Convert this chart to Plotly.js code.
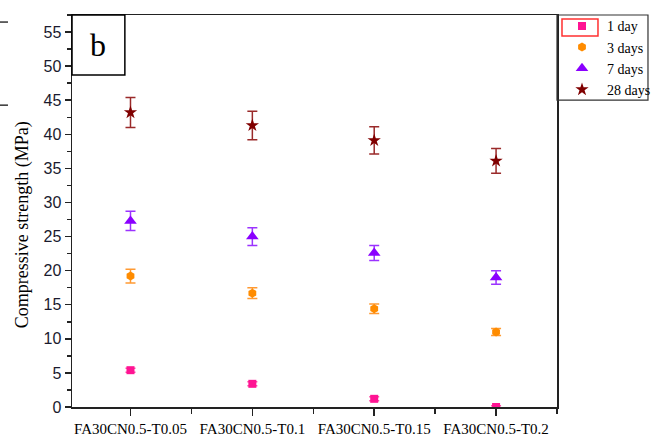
<!DOCTYPE html>
<html>
<head>
<meta charset="utf-8">
<script src="https://cdn.plot.ly/plotly-3.0.1.min.js"></script>
<style>html,body{margin:0;padding:0;background:#fff;}#chart{width:657px;height:435px;}</style>
</head>
<body>
<div id="chart"></div>
<script>
const categories = ["FA30CN0.5-T0.05", "FA30CN0.5-T0.1", "FA30CN0.5-T0.15", "FA30CN0.5-T0.2"];
const seriesNames = ["1 day", "3 days", "7 days", "28 days"];
const day1 = [5.4, 3.4, 1.2, 0.0];
const day1Err = [0.3, 0.3, 0.3, 0.2];
const day3 = [19.2, 16.7, 14.4, 11.0];
const day3Err = [1.0, 0.8, 0.7, 0.5];
const day7 = [27.3, 25.0, 22.6, 19.0];
const day7Err = [1.4, 1.3, 1.1, 1.0];
const day28 = [43.2, 41.3, 39.1, 36.1];
const day28Err = [2.2, 2.1, 2.0, 1.8];
const yTickVals = [0, 5, 10, 15, 20, 25, 30, 35, 40, 45, 50, 55];
const yTitle = "Compressive strength (MPa)";

const SERIF = "'Liberation Serif', 'Times New Roman', 'DejaVu Serif', serif";
const xIdx = categories.map((c, i) => i);
const colors = ["#ff1493", "#ff8c00", "#8a00ff", "#800000"];
const symbols = ["square", "hexagon", "triangle-up", "star"];
const sizes = [8, 9, 11, 10];
const vals = [day1, day3, day7, day28];
const errs = [day1Err, day3Err, day7Err, day28Err];
const errColors = ["#ff4fa8", "#ff9a33", "#9b33ff", "#9a2a2a"];

const traces = vals.map((v, k) => ({
  type: "scatter", mode: "markers", name: seriesNames[k],
  x: xIdx, y: v,
  marker: {color: colors[k], symbol: symbols[k], size: sizes[k], line: {width: 0}},
  error_y: {type: "data", array: errs[k], visible: true, color: errColors[k], thickness: 1.5, width: 5}
}));

const layout = {
  width: 657, height: 435,
  margin: {l: 72, r: 100, t: 15, b: 28, pad: 0, autoexpand: false},
  paper_bgcolor: "#fff", plot_bgcolor: "#fff",
  showlegend: true,
  legend: {x: 1.0, y: 1.012, xanchor: "left", yanchor: "top",
    borderwidth: 0, bgcolor: "rgba(0,0,0,0)",
    font: {family: SERIF, size: 14, color: "#000"},
    tracegroupgap: 0, itemwidth: 40},
  xaxis: {
    range: [-0.48, 3.5], tickmode: "array", tickvals: xIdx, ticktext: categories,
    tickangle: 0, automargin: false,
    showgrid: false, zeroline: false, showline: true, linecolor: "#222", linewidth: 1.5,
    mirror: true, ticks: "outside", ticklen: 7, tickwidth: 1.5, tickcolor: "#222",
    minor: {tickmode: "array", tickvals: [-0.5, 0.5, 1.5, 2.5, 3.5], ticks: "outside", ticklen: 5, tickwidth: 1.5, tickcolor: "#222"},
    tickfont: {family: SERIF, size: 15, color: "#000"}
  },
  yaxis: {
    range: [0, 57.5], tickmode: "array", tickvals: yTickVals, automargin: false,
    showgrid: false, zeroline: false, showline: true, linecolor: "#222", linewidth: 1.5,
    mirror: true, ticks: "outside", ticklen: 6, tickwidth: 1.5, tickcolor: "#222",
    minor: {dtick: 2.5, tick0: 0, ticks: "outside", ticklen: 4, tickwidth: 1.5, tickcolor: "#222"},
    tickfont: {family: "'Liberation Sans Narrow', 'Liberation Sans', sans-serif", size: 16, color: "#1a1a2e"}
  },
  shapes: [
    {type: "rect", xref: "paper", yref: "paper", x0: 0, x1: 0.109, y0: 0.847, y1: 1,
      line: {color: "#000", width: 1.5}, fillcolor: "#fff", layer: "above"},
    {type: "rect", xref: "paper", yref: "paper", x0: 1.0, x1: 1.1876, y0: 0.783, y1: 1,
      line: {color: "#333", width: 1.2}, fillcolor: "rgba(0,0,0,0)", layer: "above"},
    {type: "rect", xref: "paper", yref: "paper", x0: 1.0103, x1: 1.0845, y0: 0.9464, y1: 0.9898,
      line: {color: "#ff3030", width: 1.5}, fillcolor: "rgba(0,0,0,0)", layer: "above"},
    {type: "line", xref: "paper", yref: "paper", x0: -0.1485, x1: -0.132, y0: 0.982, y1: 0.982,
      line: {color: "#333", width: 1.5}},
    {type: "line", xref: "paper", yref: "paper", x0: -0.1485, x1: -0.132, y0: 0.770, y1: 0.770,
      line: {color: "#333", width: 1.5}}
  ],
  annotations: [
    {xref: "paper", yref: "paper", x: 0.0545, y: 0.923, text: "b", showarrow: false,
      xanchor: "center", yanchor: "middle",
      font: {family: SERIF, size: 32, color: "#000"}},
    {xref: "paper", yref: "paper", x: -0.103, y: 0.464, text: yTitle, showarrow: false,
      textangle: -90, xanchor: "center", yanchor: "middle",
      font: {family: SERIF, size: 18, color: "#000"}}
  ]
};

Plotly.newPlot("chart", traces, layout, {displayModeBar: false, staticPlot: true});
</script>
</body>
</html>
